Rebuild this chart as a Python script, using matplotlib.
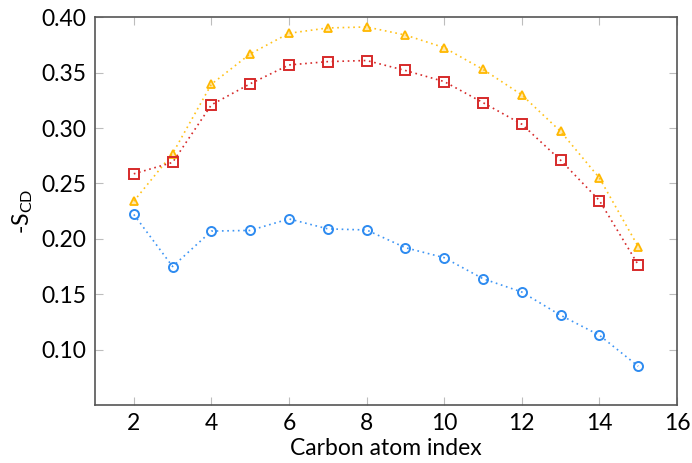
import matplotlib.pyplot as plt

# ------------------------------------------------------------
# Order parameter profiles (-S_CD) along the acyl chain
# ------------------------------------------------------------
carbon = [2, 3, 4, 5, 6, 7, 8, 9, 10, 11, 12, 13, 14, 15]

scd_blue = [0.222, 0.175, 0.207, 0.2076, 0.218, 0.209, 0.208,
            0.192, 0.183, 0.164, 0.152, 0.131, 0.113, 0.085]
scd_red = [0.2587, 0.269, 0.321, 0.340, 0.357, 0.360, 0.361,
           0.352, 0.342, 0.323, 0.3035, 0.271, 0.2346, 0.1766]
scd_yellow = [0.234, 0.277, 0.3396, 0.367, 0.3856, 0.3904, 0.3913,
              0.384, 0.3726, 0.353, 0.330, 0.297, 0.255, 0.193]

xticks = [2, 4, 6, 8, 10, 12, 14, 16]
yticks = [0.10, 0.15, 0.20, 0.25, 0.30, 0.35, 0.40]

plt.rcParams.update({
    "font.family": ["Lato", "DejaVu Sans"],
    "mathtext.fontset": "custom",
    "mathtext.rm": "Lato",
    "font.size": 16.5,
})

fig = plt.figure(figsize=(6.92, 4.63), dpi=100)
ax = fig.add_axes([0.1373, 0.1253, 0.8410, 0.8373])

dot = (0, (1, 2.2))
ax.plot(carbon, scd_yellow, linestyle=dot, lw=1.2, color="#FFC21A",
        marker="^", ms=6, mfc=(1, 0.76, 0.1, 0.35), mec="#FFB800", mew=1.3)
ax.plot(carbon, scd_red, linestyle=dot, lw=1.2, color="#D62A2A",
        marker="s", ms=6.5, mfc="none", mec="#D62A2A", mew=1.4)
ax.plot(carbon, scd_blue, linestyle=dot, lw=1.2, color="#3D95F5",
        marker="o", ms=6.5, mfc="none", mec="#2E8BF0", mew=1.4)

ax.set_xlim(1, 16)
ax.set_ylim(0.05, 0.40)
ax.set_xticks(xticks)
ax.set_yticks(yticks)
ax.set_yticklabels([f"{v:.2f}" for v in yticks])

ax.tick_params(direction="in", length=5.5, width=0.8, color="#bdbdbd",
               top=True, right=True, labelsize=16.5, pad=6)
for s in ax.spines.values():
    s.set_color("#555555")
    s.set_linewidth(1.2)

ax.set_xlabel("Carbon atom index", fontsize=16.5, labelpad=3)
ax.set_ylabel(r"-S$_\mathregular{CD}$", fontsize=16.5, labelpad=5)

fig.savefig("out.png", dpi=100)
